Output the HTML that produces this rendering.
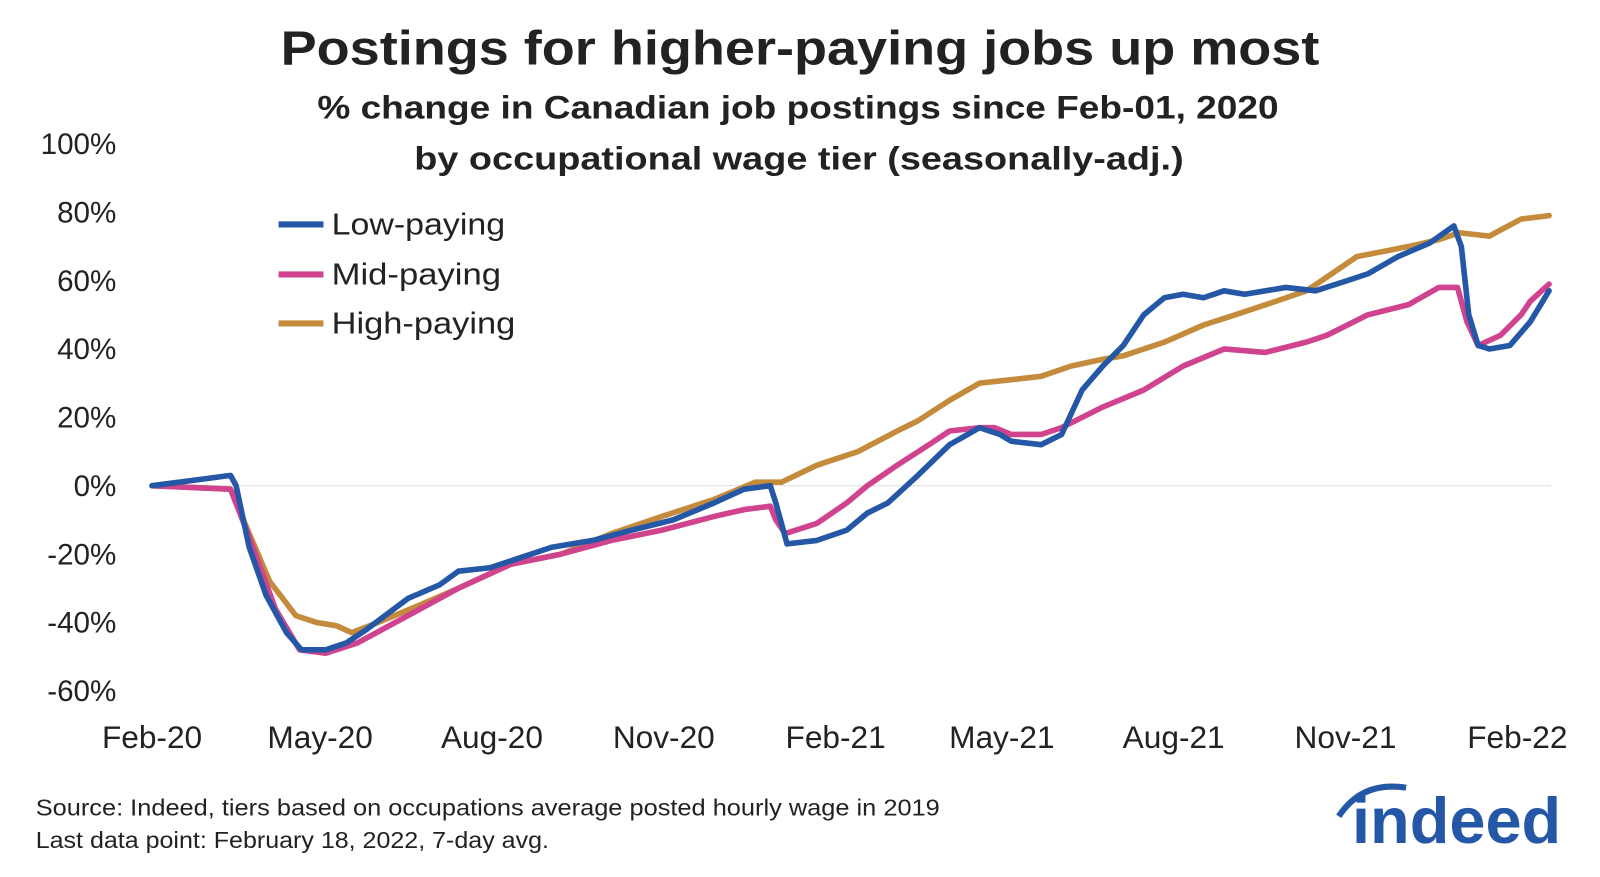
<!DOCTYPE html>
<html><head><meta charset="utf-8"><style>
body{margin:0;background:#fff;width:1600px;height:877px;overflow:hidden;font-family:"Liberation Sans",sans-serif;}
</style></head><body>
<svg id="chart" width="1600" height="877" style="position:absolute;left:0;top:0">
<g transform="scale(1.0204)">
<text x="784" y="63" text-anchor="middle" font-size="47" font-weight="bold" fill="#222" textLength="1018" lengthAdjust="spacingAndGlyphs">Postings for higher-paying jobs up most</text>
<text x="782" y="116" text-anchor="middle" font-size="32" font-weight="bold" fill="#222" textLength="942" lengthAdjust="spacingAndGlyphs">% change in Canadian job postings since Feb-01, 2020</text>
<text x="783" y="166" text-anchor="middle" font-size="32" font-weight="bold" fill="#222" textLength="754" lengthAdjust="spacingAndGlyphs">by occupational wage tier (seasonally-adj.)</text>
<g id="yaxis"></g>
<g id="xaxis"></g>
<g id="lines"></g>
<g font-size="30" fill="#222">
<g><line x1="273" y1="220" x2="317" y2="220" stroke="#2557a7" stroke-width="6"/><text x="325" y="230" textLength="170" lengthAdjust="spacingAndGlyphs">Low-paying</text></g>
<g><line x1="273" y1="269" x2="317" y2="269" stroke="#d0438e" stroke-width="6"/><text x="325" y="279" textLength="166" lengthAdjust="spacingAndGlyphs">Mid-paying</text></g>
<g><line x1="273" y1="317" x2="317" y2="317" stroke="#c38b3b" stroke-width="6"/><text x="325" y="327" textLength="180" lengthAdjust="spacingAndGlyphs">High-paying</text></g>
</g>
<text x="35" y="799" font-size="23" fill="#222" textLength="886" lengthAdjust="spacingAndGlyphs">Source: Indeed, tiers based on occupations average posted hourly wage in 2019</text>
<text x="35" y="831" font-size="23" fill="#222" textLength="503" lengthAdjust="spacingAndGlyphs">Last data point: February 18, 2022, 7-day avg.</text>
<g>
<path d="M1312 800 Q1335 765 1378 772" stroke="#2557a7" stroke-width="6" fill="none"/>
<text x="1325" y="826" font-size="64" font-weight="bold" fill="#2557a7" textLength="205" lengthAdjust="spacingAndGlyphs">indeed</text>
</g>
</g>
</svg>
<script>
const yTicks=[-60,-40,-20,0,20,40,60,80,100];
const xLabels=["Feb-20","May-20","Aug-20","Nov-20","Feb-21","May-21","Aug-21","Nov-21","Feb-22"];
const xLabelDays=[0,90,182,274,366,455,547,639,731];
const lowDays=[0,28,42,45,52,61,72,80,93,104,115,137,154,164,181,192,214,236,257,279,301,317,331,334,340,356,372,383,394,410,427,443,454,460,476,487,498,509,520,531,542,552,563,574,585,607,623,640,651,667,684,697,701,705,710,716,727,738,748];
const lowVals=[0,2,3,0,-18,-32,-43,-48,-48,-46,-42,-33,-29,-25,-24,-22,-18,-16,-13,-10,-5,-1,0,-5,-17,-16,-13,-8,-5,3,12,17,15,13,12,15,28,35,41,50,55,56,55,57,56,58,57,60,62,67,71,76,70,50,41,40,41,48,57];
const midDays=[0,42,52,66,79,93,110,137,164,192,219,246,273,301,317,331,334,339,356,372,383,399,416,427,443,451,460,476,487,509,531,552,574,596,618,629,651,673,689,699,704,710,722,733,738,748];
const midVals=[0,-1,-15,-36,-48,-49,-46,-38,-30,-23,-20,-16,-13,-9,-7,-6,-10,-14,-11,-5,0,6,12,16,17,17,15,15,17,23,28,35,40,39,42,44,50,53,58,58,48,41,44,50,54,59];
const highDays=[0,42,52,63,77,88,99,107,121,143,164,192,219,246,273,301,323,337,356,378,399,410,427,443,460,476,492,509,520,542,563,580,602,618,629,645,673,689,700,716,733,748];
const highVals=[0,-1,-14,-28,-38,-40,-41,-43,-40,-35,-30,-23,-20,-14,-9,-4,1,1,6,10,16,19,25,30,31,32,35,37,38,42,47,50,54,57,61,67,70,72,74,73,78,79];
const NS="http://www.w3.org/2000/svg";
const xS=d=>149+d*1338/731;
const yS=v=>476-v*3.35;
function mk(t,a,p){const e=document.createElementNS(NS,t);for(const k in a)e.setAttribute(k,a[k]);p.appendChild(e);return e;}
const ya=document.getElementById('yaxis');
yTicks.forEach(v=>{
 const t=mk('text',{x:114,y:yS(v)+10,'text-anchor':'end','font-size':29,fill:'#222'},ya);
 
 
 t.textContent=v+'%';
});
const zl=mk('line',{x1:149,x2:1520,y1:yS(0),y2:yS(0),stroke:'#ddd','stroke-width':1},ya);


const xa=document.getElementById('xaxis');
xLabels.forEach((l,i)=>{
 const t=mk('text',{x:xS(xLabelDays[i]),y:733,'text-anchor':'middle','font-size':31,fill:'#222'},xa);
 
 
 t.textContent=l;
});
const lg=document.getElementById('lines');
[[highDays,highVals,'#c38b3b','line-high-paying'],[midDays,midVals,'#d0438e','line-mid-paying'],[lowDays,lowVals,'#2557a7','line-low-paying']].forEach(s=>{
 const d=s[0].map((x,i)=>(i?'L':'M')+xS(x).toFixed(1)+' '+yS(s[1][i]).toFixed(1)).join(' ');
 const p=mk('path',{d:d,fill:'none',stroke:s[2],'stroke-width':5.5,'stroke-linejoin':'round','stroke-linecap':'round'},lg);
 
 
});
</script>
</body></html>
